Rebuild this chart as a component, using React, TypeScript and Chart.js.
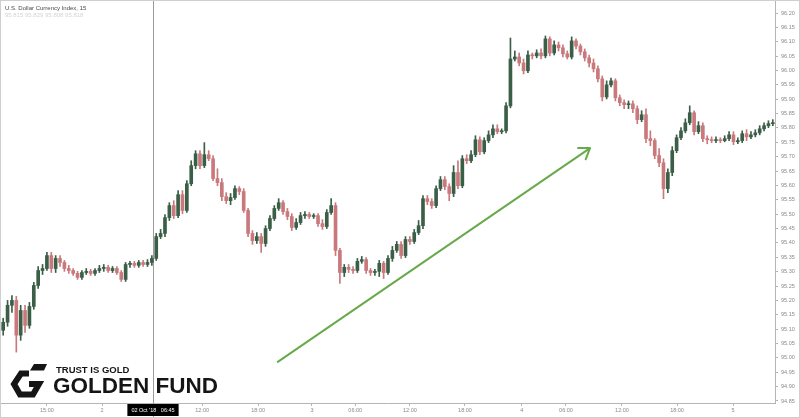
import React, { useEffect, useRef } from 'react';
import { Chart, registerables } from 'chart.js';

Chart.register(...registerables);

// 30-minute candles, U.S. Dollar Currency Index
const opens = [
  95.096, 95.124, 95.183, 95.200, 95.079, 95.165, 95.113, 95.179, 95.252, 95.304,
  95.311, 95.356, 95.311, 95.346, 95.332, 95.311, 95.304, 95.294, 95.280, 95.297,
  95.301, 95.294, 95.304, 95.311, 95.315, 95.304, 95.311, 95.297, 95.273, 95.325,
  95.329, 95.322, 95.332, 95.325, 95.332, 95.346, 95.422, 95.433, 95.488, 95.530,
  95.495, 95.568, 95.513, 95.606, 95.669, 95.710, 95.669, 95.707, 95.693, 95.624,
  95.610, 95.561, 95.547, 95.558, 95.589, 95.579, 95.513, 95.433, 95.408, 95.422,
  95.398, 95.450, 95.485, 95.520, 95.540, 95.509, 95.492, 95.454, 95.471, 95.495,
  95.499, 95.492, 95.495, 95.467, 95.457, 95.506, 95.530, 95.374, 95.297, 95.315,
  95.308, 95.304, 95.336, 95.342, 95.304, 95.297, 95.301, 95.329, 95.297, 95.346,
  95.374, 95.395, 95.356, 95.412, 95.405, 95.436, 95.460, 95.554, 95.544, 95.530,
  95.589, 95.620, 95.596, 95.572, 95.645, 95.599, 95.693, 95.686, 95.707, 95.759,
  95.717, 95.756, 95.776, 95.797, 95.787, 95.790, 95.877, 96.040, 96.047, 96.026,
  95.999, 96.054, 96.051, 96.061, 96.051, 96.110, 96.061, 96.089, 96.079, 96.058,
  96.047, 96.103, 96.085, 96.065, 96.044, 96.026, 96.006, 95.971, 95.908, 95.950,
  95.964, 95.905, 95.888, 95.881, 95.884, 95.867, 95.829, 95.846, 95.763, 95.756,
  95.704, 95.679, 95.589, 95.645, 95.721, 95.766, 95.790, 95.818, 95.853, 95.787,
  95.808, 95.763, 95.759, 95.756, 95.759, 95.756, 95.763, 95.776, 95.752, 95.756,
  95.780, 95.769, 95.776, 95.783, 95.797, 95.808, 95.815,
];

const highs = [
  95.138, 95.200, 95.217, 95.214, 95.183, 95.183, 95.193, 95.263, 95.318, 95.325,
  95.367, 95.367, 95.356, 95.356, 95.339, 95.322, 95.311, 95.301, 95.304, 95.311,
  95.308, 95.311, 95.322, 95.325, 95.322, 95.318, 95.318, 95.304, 95.332, 95.336,
  95.336, 95.339, 95.339, 95.342, 95.356, 95.433, 95.447, 95.499, 95.540, 95.547,
  95.582, 95.582, 95.617, 95.686, 95.721, 95.721, 95.749, 95.721, 95.704, 95.658,
  95.624, 95.575, 95.572, 95.599, 95.596, 95.589, 95.520, 95.443, 95.436, 95.433,
  95.460, 95.495, 95.530, 95.554, 95.547, 95.520, 95.502, 95.485, 95.506, 95.509,
  95.506, 95.502, 95.502, 95.481, 95.516, 95.554, 95.540, 95.381, 95.325, 95.325,
  95.318, 95.346, 95.353, 95.349, 95.311, 95.308, 95.339, 95.336, 95.356, 95.388,
  95.405, 95.405, 95.422, 95.422, 95.447, 95.478, 95.565, 95.565, 95.554, 95.599,
  95.631, 95.631, 95.606, 95.669, 95.686, 95.704, 95.707, 95.721, 95.773, 95.769,
  95.766, 95.790, 95.811, 95.811, 95.797, 95.888, 96.113, 96.068, 96.061, 96.040,
  96.068, 96.061, 96.072, 96.075, 96.120, 96.117, 96.103, 96.099, 96.089, 96.068,
  96.117, 96.110, 96.092, 96.075, 96.054, 96.040, 96.016, 95.981, 95.964, 95.974,
  95.971, 95.915, 95.898, 95.894, 95.894, 95.877, 95.860, 95.867, 95.790, 95.763,
  95.728, 95.693, 95.658, 95.735, 95.776, 95.801, 95.832, 95.877, 95.860, 95.822,
  95.818, 95.773, 95.769, 95.769, 95.766, 95.773, 95.787, 95.787, 95.766, 95.790,
  95.794, 95.787, 95.794, 95.808, 95.818, 95.825, 95.829,
];

const lows = [
  95.079, 95.110, 95.158, 95.020, 95.061, 95.089, 95.103, 95.169, 95.242, 95.290,
  95.304, 95.297, 95.297, 95.318, 95.301, 95.294, 95.287, 95.273, 95.273, 95.290,
  95.287, 95.287, 95.297, 95.301, 95.297, 95.297, 95.290, 95.266, 95.266, 95.315,
  95.315, 95.315, 95.318, 95.318, 95.322, 95.339, 95.415, 95.422, 95.478, 95.485,
  95.488, 95.502, 95.506, 95.599, 95.658, 95.658, 95.662, 95.686, 95.617, 95.599,
  95.547, 95.537, 95.533, 95.551, 95.568, 95.506, 95.422, 95.395, 95.398, 95.367,
  95.388, 95.443, 95.478, 95.513, 95.499, 95.481, 95.443, 95.447, 95.464, 95.485,
  95.485, 95.485, 95.457, 95.447, 95.450, 95.499, 95.356, 95.259, 95.283, 95.297,
  95.294, 95.297, 95.329, 95.294, 95.287, 95.287, 95.283, 95.276, 95.290, 95.336,
  95.367, 95.346, 95.349, 95.395, 95.398, 95.429, 95.450, 95.533, 95.520, 95.523,
  95.582, 95.585, 95.547, 95.561, 95.589, 95.592, 95.676, 95.679, 95.700, 95.707,
  95.710, 95.749, 95.766, 95.780, 95.780, 95.783, 95.870, 96.033, 96.016, 95.988,
  95.992, 96.040, 96.044, 96.040, 96.044, 96.051, 96.054, 96.068, 96.047, 96.040,
  96.040, 96.075, 96.054, 96.033, 96.012, 95.995, 95.960, 95.894, 95.901, 95.943,
  95.894, 95.877, 95.867, 95.867, 95.853, 95.815, 95.822, 95.749, 95.738, 95.693,
  95.665, 95.554, 95.575, 95.634, 95.714, 95.759, 95.783, 95.811, 95.776, 95.780,
  95.752, 95.745, 95.749, 95.749, 95.749, 95.752, 95.756, 95.742, 95.745, 95.749,
  95.756, 95.763, 95.769, 95.776, 95.790, 95.801, 95.808,
];

const closes = [
  95.124, 95.183, 95.200, 95.079, 95.165, 95.113, 95.179, 95.252, 95.304, 95.311,
  95.356, 95.311, 95.346, 95.332, 95.311, 95.304, 95.294, 95.280, 95.297, 95.301,
  95.294, 95.304, 95.311, 95.315, 95.304, 95.311, 95.297, 95.273, 95.325, 95.329,
  95.322, 95.332, 95.325, 95.332, 95.346, 95.422, 95.433, 95.488, 95.530, 95.495,
  95.568, 95.513, 95.606, 95.669, 95.710, 95.669, 95.707, 95.693, 95.624, 95.610,
  95.561, 95.547, 95.558, 95.589, 95.579, 95.513, 95.433, 95.408, 95.422, 95.398,
  95.450, 95.485, 95.520, 95.540, 95.509, 95.492, 95.454, 95.471, 95.495, 95.499,
  95.492, 95.495, 95.467, 95.457, 95.506, 95.530, 95.374, 95.297, 95.315, 95.308,
  95.304, 95.336, 95.342, 95.304, 95.297, 95.301, 95.329, 95.297, 95.346, 95.374,
  95.395, 95.356, 95.412, 95.405, 95.436, 95.460, 95.554, 95.544, 95.530, 95.589,
  95.620, 95.596, 95.572, 95.645, 95.599, 95.693, 95.686, 95.707, 95.759, 95.717,
  95.756, 95.776, 95.797, 95.787, 95.790, 95.877, 96.040, 96.047, 96.026, 95.999,
  96.054, 96.051, 96.061, 96.051, 96.110, 96.061, 96.089, 96.079, 96.058, 96.047,
  96.103, 96.085, 96.065, 96.044, 96.026, 96.006, 95.971, 95.908, 95.950, 95.964,
  95.905, 95.888, 95.881, 95.884, 95.867, 95.829, 95.846, 95.763, 95.756, 95.704,
  95.679, 95.589, 95.645, 95.721, 95.766, 95.790, 95.818, 95.853, 95.787, 95.808,
  95.763, 95.759, 95.756, 95.759, 95.756, 95.763, 95.776, 95.752, 95.756, 95.780,
  95.769, 95.776, 95.783, 95.797, 95.808, 95.815, 95.818,
];

// time-axis labels and the candle positions they sit at
const timeTickPositions = [10.0, 22.6, 45.5, 58.3, 70.6, 80.5, 93.0, 105.6, 118.6, 128.7, 141.5, 154.1, 166.9];
const timeTickLabels = ['15:00', '2', '12:00', '18:00', '3', '06:00', '12:00', '18:00', '4', '06:00', '12:00', '18:00', '5'];

// price axis
const priceMin = 94.843;
const priceMax = 96.2418;
const priceStep = 0.05;

// crosshair (cursor) and its time label
const crosshairPosition = 34.3;
const crosshairLabel = "02 Oct '18   06:45";

// green trend arrow: [candle position, price]
const arrowFrom = [62.8, 94.986];
const arrowTo = [134.2, 95.730];

const title = 'U.S. Dollar Currency Index, 15';
const subtitle = '95.815  95.829  95.808  95.818';

const UP = '#3b5e47';
const DOWN = '#c9797c';

const overlayPlugin = {
  id: 'overlay',
  beforeDatasetsDraw(chart: any) {
    const { ctx, scales } = chart;
    const px = Math.round(scales.x.getPixelForValue(crosshairPosition)) + 0.5;
    ctx.save();
    ctx.strokeStyle = '#9c9c9c';
    ctx.lineWidth = 1;
    ctx.beginPath();
    ctx.moveTo(px, 0);
    ctx.lineTo(px, chart.height);
    ctx.stroke();
    ctx.restore();
  },
  afterDraw(chart: any) {
    const { ctx, chartArea, scales } = chart;
    const { x, y } = scales;
    const x1 = x.getPixelForValue(arrowFrom[0]);
    const y1 = y.getPixelForValue(arrowFrom[1]);
    const x2 = x.getPixelForValue(arrowTo[0]);
    const y2 = y.getPixelForValue(arrowTo[1]);
    ctx.save();
    ctx.strokeStyle = '#68aa4b';
    ctx.lineWidth = 2;
    ctx.lineCap = 'round';
    ctx.lineJoin = 'round';
    ctx.beginPath();
    ctx.moveTo(x1, y1);
    ctx.lineTo(x2, y2);
    const ang = Math.atan2(y2 - y1, x2 - x1);
    const len = 12;
    const spread = 0.6;
    ctx.moveTo(x2 - len * Math.cos(ang - spread), y2 - len * Math.sin(ang - spread));
    ctx.lineTo(x2, y2);
    ctx.lineTo(x2 - len * Math.cos(ang + spread), y2 - len * Math.sin(ang + spread));
    ctx.stroke();
    ctx.restore();

    const px = Math.round(x.getPixelForValue(crosshairPosition));
    ctx.save();
    ctx.font = '5.5px "Liberation Sans", Arial, sans-serif';
    const w = ctx.measureText(crosshairLabel).width + 8;
    const top = chartArea.bottom + 1;
    ctx.fillStyle = '#000';
    ctx.fillRect(px - w / 2, top, w, 12);
    ctx.fillStyle = '#fff';
    ctx.textAlign = 'center';
    ctx.textBaseline = 'middle';
    ctx.fillText(crosshairLabel, px, top + 6.5);
    ctx.restore();
  },
};

function ChartView() {
  const ref = useRef<HTMLCanvasElement | null>(null);
  useEffect(() => {
    if (!ref.current) return;
    const colors = closes.map((c, i) => (c >= opens[i] ? UP : DOWN));
    const chart = new Chart(ref.current, {
      type: 'bar',
      data: {
        datasets: [
          {
            label: 'wick',
            data: closes.map((_, i) => ({ x: i, y: [lows[i], highs[i]] })) as any,
            backgroundColor: colors,
            borderWidth: 0,
            barThickness: 1,
            grouped: false,
            order: 2,
          } as any,
          {
            label: 'body',
            data: closes.map((c, i) => ({ x: i, y: [opens[i], c] })) as any,
            backgroundColor: colors,
            borderWidth: 0,
            barThickness: 3,
            minBarLength: 1,
            grouped: false,
            order: 1,
          } as any,
        ],
      },
      options: {
        animation: false,
        responsive: false,
        maintainAspectRatio: false,
        layout: { padding: 0 },
        plugins: { legend: { display: false }, tooltip: { enabled: false } },
        scales: {
          x: {
            type: 'linear',
            min: -0.5,
            max: closes.length - 0.5,
            offset: false,
            grid: { display: true, drawOnChartArea: false, drawTicks: true, tickLength: 3, color: '#b5b5b5', offset: false },
            border: { display: true, color: '#b5b5b5' },
            afterBuildTicks: (scale: any) => {
              scale.ticks = timeTickPositions.map((v) => ({ value: v }));
            },
            afterFit: (scale: any) => {
              scale.height = 14;
              scale.paddingLeft = 0;
              scale.paddingRight = 0;
            },
            ticks: {
              autoSkip: false,
              maxRotation: 0,
              minRotation: 0,
              padding: 1,
              color: '#8a8a8a',
              font: { size: 5.5, family: '"Liberation Sans", Arial, sans-serif' },
              callback: (_v: any, i: number) => timeTickLabels[i],
            },
          } as any,
          y: {
            type: 'linear',
            position: 'right',
            min: priceMin,
            max: priceMax,
            grid: { display: true, drawOnChartArea: false, drawTicks: true, tickLength: 3, color: '#b5b5b5' },
            border: { display: true, color: '#b5b5b5' },
            afterFit: (scale: any) => {
              scale.width = 24;
              scale.paddingTop = 0;
              scale.paddingBottom = 0;
            },
            ticks: {
              stepSize: priceStep,
              includeBounds: false,
              autoSkip: false,
              padding: 3,
              color: '#8a8a8a',
              font: { size: 5.5, family: '"Liberation Sans", Arial, sans-serif' },
              callback: (v: any) => Number(v).toFixed(2),
            },
          } as any,
        },
      },
      plugins: [overlayPlugin],
    });
    return () => chart.destroy();
  }, []);
  return <canvas ref={ref} width={798} height={416} style={{ position: 'absolute', left: 0, top: 0, display: 'block' }} />;
}

function Logo() {
  return (
    <div style={{ position: 'absolute', left: 9, top: 361, width: 230, height: 40, pointerEvents: 'none' }}>
      <svg width={38} height={36} viewBox="0 0 38 36" style={{ position: 'absolute', left: 0, top: 0 }}>
        <polygon points="24,2 37,2 34,8.5 20,8.5" fill="#151515" />
        <path d="M19 11.5 L11 11.5 L4 22 L10 32.5 L23 32.5 L29 22 L19 22" fill="none" stroke="#151515" strokeWidth={6} strokeLinejoin="miter" />
      </svg>
      <div
        style={{
          position: 'absolute',
          left: 46,
          top: 3,
          font: 'bold 9.5px "Liberation Sans", Arial, sans-serif',
          lineHeight: '9.5px',
          color: '#151515',
          whiteSpace: 'nowrap',
        }}
      >
        TRUST IS GOLD
      </div>
      <div
        style={{
          position: 'absolute',
          left: 43,
          top: 12,
          font: 'bold 22.5px "Liberation Sans", Arial, sans-serif',
          lineHeight: '23px',
          color: '#151515',
          whiteSpace: 'nowrap',
        }}
      >
        GOLDEN FUND
      </div>
    </div>
  );
}

export default function App() {
  return (
    <div
      style={{
        position: 'fixed',
        left: 0,
        top: 0,
        width: 800,
        height: 418,
        boxSizing: 'border-box',
        border: '1px solid #cfcfcf',
        background: '#ffffff',
        overflow: 'hidden',
      }}
    >
      <ChartView />
      <div
        style={{
          position: 'absolute',
          left: 4,
          top: 4,
          font: '6px "Liberation Sans", Arial, sans-serif',
          lineHeight: '7px',
          color: '#4a4a4a',
          whiteSpace: 'nowrap',
        }}
      >
        {title}
        <div style={{ color: '#d4d4d4' }}>{subtitle}</div>
      </div>
      <Logo />
    </div>
  );
}
